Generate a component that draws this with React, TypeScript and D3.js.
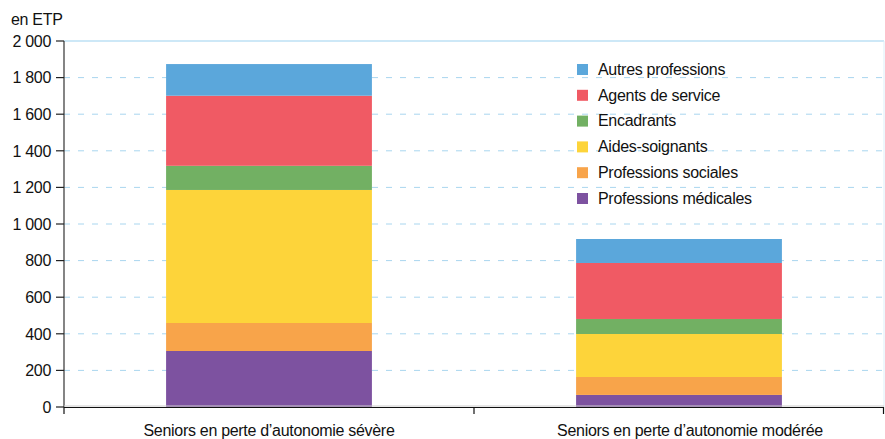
import React from "react";
import * as d3 from "d3";

const categories = [
  "Seniors en perte d\u2019autonomie sévère",
  "Seniors en perte d\u2019autonomie modérée",
];

// stacking order bottom -> top
const series = [
  "Professions médicales",
  "Professions sociales",
  "Aides-soignants",
  "Encadrants",
  "Agents de service",
  "Autres professions",
];
const colors = ["#7D52A0", "#F8A44A", "#FDD43A", "#72B063", "#F05A64", "#5BA7DB"];

const medicales = [306, 66];
const sociales = [153, 98];
const aides = [727, 235];
const encadrants = [132, 82];
const agents = [383, 306];
const autres = [173, 131];

const yTicks = [0, 200, 400, 600, 800, 1000, 1200, 1400, 1600, 1800, 2000];

const width = 885;
const height = 439;
const margin = { top: 41, right: 1, bottom: 32, left: 64 };
const font = "'Liberation Sans', Arial, Helvetica, sans-serif";
const fs = 16;
const ls = -0.3;
// the source nudges the second category label a bit to the right
const labelDx = [0, 11];

export default function App() {
  const values = [medicales, sociales, aides, encadrants, agents, autres];
  const rows = categories.map((c, i) => {
    const r: Record<string, any> = { cat: c };
    series.forEach((s, j) => (r[s] = values[j][i]));
    return r;
  });
  const stacked = d3.stack<any>().keys(series)(rows);

  const x = d3
    .scaleBand()
    .domain(categories)
    .range([margin.left, width - margin.right])
    .paddingInner(0)
    .paddingOuter(0);
  const y = d3
    .scaleLinear()
    .domain([0, 2000])
    .range([height - margin.bottom, margin.top]);

  const barW = x.bandwidth() * 0.502;
  const fmt = (v: number) => d3.format(",")(v).replace(",", " ");
  const x0 = margin.left;
  const x1 = width - margin.right;
  const y0 = y(0);

  // legend shows top series first
  const legendItems = series.map((s, i) => ({ s, c: colors[i] })).reverse();

  return (
    <div style={{ position: "absolute", left: 0, top: 0 }}>
      <svg width={width} height={height} style={{ display: "block", fontFamily: font }}>
        <rect width={width} height={height} fill="#fff" />
        {/* gridlines */}
        {yTicks.slice(1, -1).map((t) => (
          <line
            key={t}
            x1={x0}
            x2={x1}
            y1={y(t)}
            y2={y(t)}
            stroke="#A9D6EF"
            strokeWidth={1}
            strokeDasharray="6,8"
          />
        ))}
        <line x1={x0} x2={x1} y1={y(2000)} y2={y(2000)} stroke="#BCE0F4" strokeWidth={1.5} />
        <line x1={x1} x2={x1} y1={y(2000)} y2={y0} stroke="#DDEFF9" strokeWidth={1} />

        {/* bars */}
        {stacked.map((layer, j) => (
          <g key={layer.key} fill={colors[j]}>
            {layer.map((d, i) => (
              <rect
                key={i}
                x={(x(categories[i]) as number) + (x.bandwidth() - barW) / 2}
                y={y(d[1])}
                width={barW}
                height={y(d[0]) - y(d[1])}
              />
            ))}
          </g>
        ))}

        {/* y axis */}
        <line x1={x0} x2={x0} y1={y(2000)} y2={y0} stroke="#333" strokeWidth={1.2} />
        {yTicks.map((t) => (
          <g key={t}>
            <line x1={x0 - 8} x2={x0} y1={y(t)} y2={y(t)} stroke="#222" strokeWidth={1.2} />
            <text
              x={x0 - 13}
              y={y(t)}
              dy="0.36em"
              textAnchor="end"
              fontSize={fs}
              letterSpacing={ls}
              fill="#111"
            >
              {fmt(t)}
            </text>
          </g>
        ))}
        <text x={11} y={25} fontSize={fs} letterSpacing={ls} fill="#111">
          en ETP
        </text>

        {/* x axis */}
        <line x1={x0} x2={x1} y1={y0 - 1} y2={y0 - 1} stroke="#ccc" strokeWidth={1} />
        <line x1={x0} x2={x1} y1={y0 + 0.5} y2={y0 + 0.5} stroke="#111" strokeWidth={1.2} />
        {[...categories.map((c) => x(c) as number), x1 - 0.5].map((px, i) => (
          <line key={i} x1={px} x2={px} y1={y0} y2={y0 + 7} stroke="#111" strokeWidth={1.2} />
        ))}
        {categories.map((c, i) => (
          <text
            key={c}
            x={(x(c) as number) + x.bandwidth() / 2 + labelDx[i]}
            y={y0 + 29}
            textAnchor="middle"
            fontSize={fs}
            letterSpacing={ls}
            fill="#111"
          >
            {c}
          </text>
        ))}

        {/* legend */}
        {legendItems.map((it, i) => (
          <g key={it.s} transform={`translate(577, ${69 + i * 25.8})`}>
            <rect x={0} y={-5} width={11} height={11} fill={it.c} />
            <text x={21} y={0} dy="0.36em" fontSize={fs} letterSpacing={ls} fill="#111">
              {it.s}
            </text>
          </g>
        ))}
      </svg>
    </div>
  );
}
